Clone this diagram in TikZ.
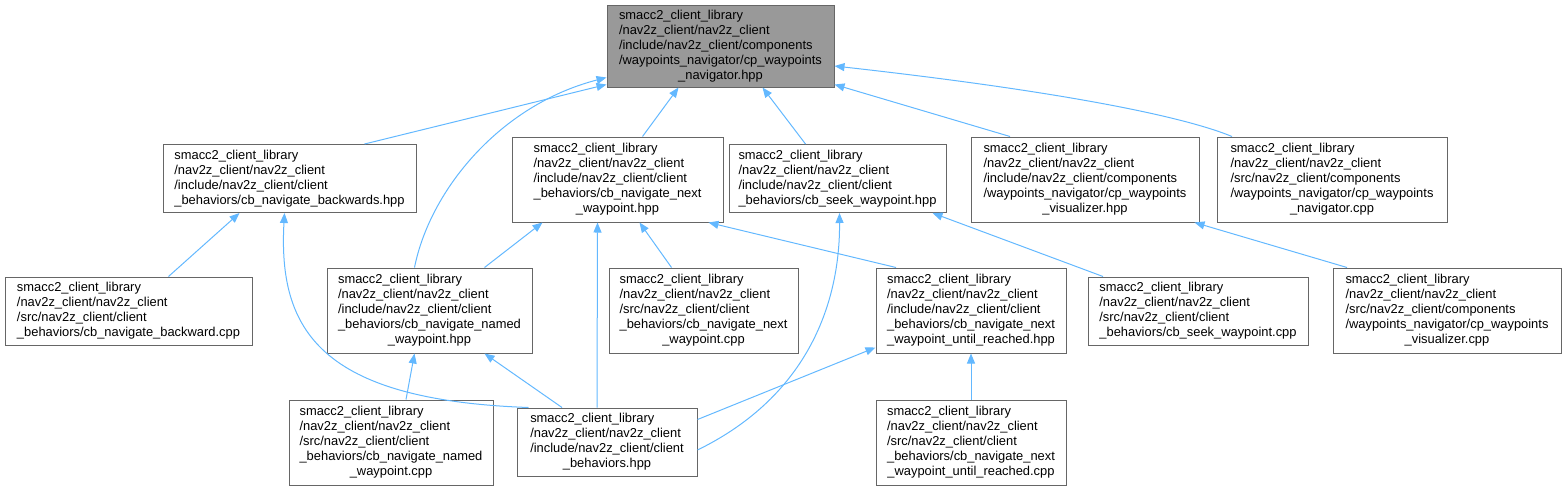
\documentclass[tikz,border=0pt]{standalone}
\usepackage{fontspec}
\setmainfont{Liberation Sans}
\usetikzlibrary{arrows.meta}
\definecolor{edgeblue}{HTML}{63B8FF}
\definecolor{boxgray}{HTML}{666666}
\definecolor{topfill}{HTML}{999999}
\newcommand{\boxtext}[2]{\begin{tabular}{@{}l@{}}#1\\\multicolumn{1}{@{}c@{}}{#2}\end{tabular}}
\begin{document}
\begin{tikzpicture}[x=1pt,y=-1pt,
  filebox/.style={draw=boxgray,line width=1pt,fill=white,inner sep=0pt,minimum width=#1,
    font=\fontsize{12.9}{15}\selectfont,text=black},
  fourl/.style={minimum height=68pt},
  fivel/.style={minimum height=85pt},
  edge/.style={draw=edgeblue,line width=1pt,{Triangle[width=8pt,length=10pt]}-}]
\useasboundingbox (0,0) rectangle (1566,491);

\node[filebox=227pt,minimum height=82pt,fill=topfill] (T) at (720.5,46)
 {\boxtext{smacc2\_client\_library\\/nav2z\_client/nav2z\_client\\/include/nav2z\_client/components\\/waypoints\_navigator/cp\_waypoints}{\_navigator.hpp}};

\node[filebox=253pt,fourl] (B1) at (289.5,178.5)
 {\boxtext{smacc2\_client\_library\\/nav2z\_client/nav2z\_client\\/include/nav2z\_client/client}{\_behaviors/cb\_navigate\_backwards.hpp}};
\node[filebox=211pt,fivel] (B2) at (617.5,179.5)
 {\boxtext{smacc2\_client\_library\\/nav2z\_client/nav2z\_client\\/include/nav2z\_client/client\\\_behaviors/cb\_navigate\_next}{\_waypoint.hpp}};
\node[filebox=217pt,fourl] (B3) at (837.5,178.5)
 {\boxtext{smacc2\_client\_library\\/nav2z\_client/nav2z\_client\\/include/nav2z\_client/client}{\_behaviors/cb\_seek\_waypoint.hpp}};
\node[filebox=228pt,fivel] (B4) at (1085,179.5)
 {\boxtext{smacc2\_client\_library\\/nav2z\_client/nav2z\_client\\/include/nav2z\_client/components\\/waypoints\_navigator/cp\_waypoints}{\_visualizer.hpp}};
\node[filebox=230pt,fivel] (B5) at (1332,179.5)
 {\boxtext{smacc2\_client\_library\\/nav2z\_client/nav2z\_client\\/src/nav2z\_client/components\\/waypoints\_navigator/cp\_waypoints}{\_navigator.cpp}};

\node[filebox=247pt,fourl] (C1) at (128.5,311)
 {\boxtext{smacc2\_client\_library\\/nav2z\_client/nav2z\_client\\/src/nav2z\_client/client}{\_behaviors/cb\_navigate\_backward.cpp}};
\node[filebox=205pt,fivel] (C2) at (429.5,310.5)
 {\boxtext{smacc2\_client\_library\\/nav2z\_client/nav2z\_client\\/include/nav2z\_client/client\\\_behaviors/cb\_navigate\_named}{\_waypoint.hpp}};
\node[filebox=189pt,fivel] (C3) at (703.5,310.5)
 {\boxtext{smacc2\_client\_library\\/nav2z\_client/nav2z\_client\\/src/nav2z\_client/client\\\_behaviors/cb\_navigate\_next}{\_waypoint.cpp}};
\node[filebox=190pt,fivel] (C4) at (971,310.5)
 {\boxtext{smacc2\_client\_library\\/nav2z\_client/nav2z\_client\\/include/nav2z\_client/client\\\_behaviors/cb\_navigate\_next}{\_waypoint\_until\_reached.hpp}};
\node[filebox=220pt,fourl] (C5) at (1198,311)
 {\boxtext{smacc2\_client\_library\\/nav2z\_client/nav2z\_client\\/src/nav2z\_client/client}{\_behaviors/cb\_seek\_waypoint.cpp}};
\node[filebox=228pt,fivel] (C6) at (1447,310.5)
 {\boxtext{smacc2\_client\_library\\/nav2z\_client/nav2z\_client\\/src/nav2z\_client/components\\/waypoints\_navigator/cp\_waypoints}{\_visualizer.cpp}};

\node[filebox=204pt,fivel] (D1) at (391,442.5)
 {\boxtext{smacc2\_client\_library\\/nav2z\_client/nav2z\_client\\/src/nav2z\_client/client\\\_behaviors/cb\_navigate\_named}{\_waypoint.cpp}};
\node[filebox=180pt,fourl] (D2) at (607,442)
 {\boxtext{smacc2\_client\_library\\/nav2z\_client/nav2z\_client\\/include/nav2z\_client/client}{\_behaviors.hpp}};
\node[filebox=190pt,fivel] (D3) at (971,442.5)
 {\boxtext{smacc2\_client\_library\\/nav2z\_client/nav2z\_client\\/src/nav2z\_client/client\\\_behaviors/cb\_navigate\_next}{\_waypoint\_until\_reached.cpp}};

% edges to top node
\draw[edge] ([yshift=3pt]T.south west) -- ([xshift=75pt]B1.north);
\draw[edge] ([yshift=10pt]T.south west) .. controls (500,105) and (430,190) .. ([xshift=-15pt]C2.north);
\draw[edge] ([xshift=-42pt]T.south) -- ([xshift=25pt]B2.north);
\draw[edge] ([xshift=42pt]T.south) -- ([xshift=-32pt]B3.north);
\draw[edge] ([yshift=3pt]T.south east) -- ([xshift=-75pt]B4.north);
\draw[edge] ([yshift=-20pt]T.east) .. controls (1050,90) and (1180,115) .. ([xshift=-100pt]B5.north);

% edges to B1
\draw[edge] ([xshift=-50pt]B1.south) -- ([xshift=40pt]C1.north);
\draw[edge] ([xshift=-5pt]B1.south) .. controls (278,330) and (320,400) .. ([xshift=12pt]D2.north west);

% edges to B2
\draw[edge] ([xshift=-75pt]B2.south) -- ([xshift=55pt]C2.north);
\draw[edge] ([xshift=-20pt]B2.south) -- ([xshift=-10pt]D2.north);
\draw[edge] ([xshift=22pt]B2.south) -- ([xshift=-32pt]C3.north);
\draw[edge] ([xshift=-15pt]B2.south east) -- ([xshift=-75pt]C4.north);

% edges to B3
\draw[edge] ([xshift=2pt]B3.south) .. controls (840,300) and (810,395) .. ([yshift=-8pt]D2.east);
\draw[edge] ([xshift=95pt]B3.south) -- ([xshift=-95pt]C5.north);

% edges to B4
\draw[edge] ([xshift=-5pt]B4.south east) -- ([xshift=-100pt]C6.north);

% edges to C2
\draw[edge] ([xshift=-15pt]C2.south) -- ([xshift=15pt]D1.north);
\draw[edge] ([xshift=55pt]C2.south) -- ([xshift=-45pt]D2.north);

% edges to C4
\draw[edge] ([yshift=6pt]C4.south west) -- ([yshift=-12pt]D2.north east);
\draw[edge] (C4.south) -- (D3.north);
\end{tikzpicture}
\end{document}
